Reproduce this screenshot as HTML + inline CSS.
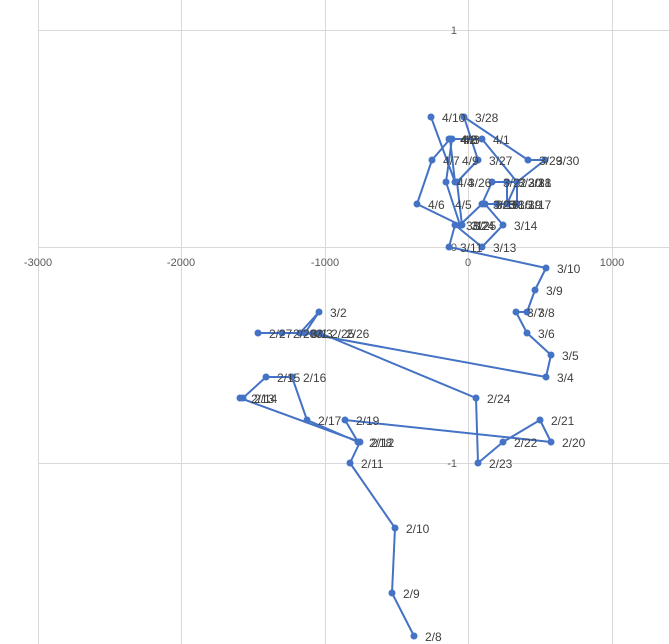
<!DOCTYPE html>
<html><head><meta charset="utf-8"><style>
html,body{margin:0;padding:0;background:#fff;}
svg{display:block;font-family:"Liberation Sans",sans-serif;}
</style></head><body>
<svg width="669" height="644" viewBox="0 0 669 644" xmlns="http://www.w3.org/2000/svg">
<g stroke="#d9d9d9" stroke-width="1">
<line x1="38.5" y1="0" x2="38.5" y2="644"/>
<line x1="181.5" y1="0" x2="181.5" y2="644"/>
<line x1="325.5" y1="0" x2="325.5" y2="644"/>
<line x1="612.5" y1="0" x2="612.5" y2="644"/>
<line x1="38" y1="30.5" x2="669" y2="30.5"/>
<line x1="38" y1="463.5" x2="669" y2="463.5"/>
<line x1="468.5" y1="0" x2="468.5" y2="644"/>
<line x1="38" y1="247.5" x2="669" y2="247.5"/>
</g>
<g font-size="11" fill="#595959" text-anchor="middle">
<text x="38" y="266">-3000</text>
<text x="181" y="266">-2000</text>
<text x="325" y="266">-1000</text>
<text x="468" y="266">0</text>
<text x="612" y="266">1000</text>
</g>
<g font-size="11" fill="#595959" text-anchor="end">
<text x="457" y="34">1</text>
<text x="457" y="251">0</text>
<text x="457" y="467">-1</text>
</g>
<polyline fill="none" stroke="#4472c4" stroke-width="2" stroke-linejoin="round" points="
414,636 392,593 395,528 350,463 360,442 240,398 243,398 266,377 292,377 307,420 358,442 345,420 551,442 540,420 503,442 478,463 476,398 320,333 313,333 258,333 282,333 300,333 319,312 305,333 546,377 551,355 527,333 516,312 527,312 535,290 546,268 449,247 455,225 482,247 503,225 485,204 497,204 517,204 517,182 507,204 507,182 517,182 492,182 482,204 460,225 462,225 457,182 478,160 464,117 528,160 545,160 517,182 482,139 449,139 452,139 446,182 460,225 417,204 432,160 450,139 455,182 431,117"/>
<g fill="#4472c4">
<circle cx="414" cy="636" r="3.5"/><circle cx="392" cy="593" r="3.5"/><circle cx="395" cy="528" r="3.5"/><circle cx="350" cy="463" r="3.5"/><circle cx="360" cy="442" r="3.5"/><circle cx="240" cy="398" r="3.5"/><circle cx="243" cy="398" r="3.5"/><circle cx="266" cy="377" r="3.5"/><circle cx="292" cy="377" r="3.5"/><circle cx="307" cy="420" r="3.5"/><circle cx="358" cy="442" r="3.5"/><circle cx="345" cy="420" r="3.5"/><circle cx="551" cy="442" r="3.5"/><circle cx="540" cy="420" r="3.5"/><circle cx="503" cy="442" r="3.5"/><circle cx="478" cy="463" r="3.5"/><circle cx="476" cy="398" r="3.5"/><circle cx="320" cy="333" r="3.5"/><circle cx="313" cy="333" r="3.5"/><circle cx="258" cy="333" r="3.5"/><circle cx="282" cy="333" r="3.5"/><circle cx="300" cy="333" r="3.5"/><circle cx="319" cy="312" r="3.5"/><circle cx="305" cy="333" r="3.5"/><circle cx="546" cy="377" r="3.5"/><circle cx="551" cy="355" r="3.5"/><circle cx="527" cy="333" r="3.5"/><circle cx="516" cy="312" r="3.5"/><circle cx="527" cy="312" r="3.5"/><circle cx="535" cy="290" r="3.5"/><circle cx="546" cy="268" r="3.5"/><circle cx="449" cy="247" r="3.5"/><circle cx="455" cy="225" r="3.5"/><circle cx="482" cy="247" r="3.5"/><circle cx="503" cy="225" r="3.5"/><circle cx="485" cy="204" r="3.5"/><circle cx="497" cy="204" r="3.5"/><circle cx="517" cy="204" r="3.5"/><circle cx="517" cy="182" r="3.5"/><circle cx="507" cy="204" r="3.5"/><circle cx="507" cy="182" r="3.5"/><circle cx="492" cy="182" r="3.5"/><circle cx="482" cy="204" r="3.5"/><circle cx="460" cy="225" r="3.5"/><circle cx="462" cy="225" r="3.5"/><circle cx="457" cy="182" r="3.5"/><circle cx="478" cy="160" r="3.5"/><circle cx="464" cy="117" r="3.5"/><circle cx="528" cy="160" r="3.5"/><circle cx="545" cy="160" r="3.5"/><circle cx="482" cy="139" r="3.5"/><circle cx="449" cy="139" r="3.5"/><circle cx="452" cy="139" r="3.5"/><circle cx="446" cy="182" r="3.5"/><circle cx="417" cy="204" r="3.5"/><circle cx="432" cy="160" r="3.5"/><circle cx="450" cy="139" r="3.5"/><circle cx="455" cy="182" r="3.5"/><circle cx="431" cy="117" r="3.5"/>
</g>
<g font-size="12" fill="#404040">
<text x="425" y="641">2/8</text><text x="403" y="598">2/9</text><text x="406" y="533">2/10</text><text x="361" y="468">2/11</text>
<text x="371" y="447">2/12</text><text x="251" y="403">2/13</text><text x="254" y="403">2/14</text><text x="277" y="382">2/15</text><text x="303" y="382">2/16</text><text x="318" y="425">2/17</text><text x="369" y="447">2/18</text><text x="356" y="425">2/19</text>
<text x="562" y="447">2/20</text><text x="551" y="425">2/21</text><text x="514" y="447">2/22</text><text x="489" y="468">2/23</text><text x="487" y="403">2/24</text>
<text x="331" y="338">2/25</text><text x="346" y="338">2/26</text><text x="269" y="338">2/27</text><text x="293" y="338">2/28</text><text x="311" y="338">3/1</text><text x="330" y="317">3/2</text><text x="316" y="338">3/3</text>
<text x="557" y="382">3/4</text><text x="562" y="360">3/5</text><text x="538" y="338">3/6</text><text x="527" y="317">3/7</text><text x="538" y="317">3/8</text><text x="546" y="295">3/9</text><text x="557" y="273">3/10</text>
<text x="460" y="252">3/11</text><text x="466" y="230">3/12</text><text x="493" y="252">3/13</text><text x="514" y="230">3/14</text>
<text x="496" y="209">3/15</text><text x="508" y="209">3/16</text><text x="528" y="209">3/17</text><text x="528" y="187">3/18</text><text x="518" y="209">3/19</text><text x="518" y="187">3/20</text><text x="528" y="187">3/21</text><text x="503" y="187">3/22</text><text x="493" y="209">3/23</text><text x="471" y="230">3/24</text><text x="473" y="230">3/25</text><text x="468" y="187">3/26</text>
<text x="489" y="165">3/27</text><text x="475" y="122">3/28</text><text x="539" y="165">3/29</text><text x="556" y="165">3/30</text><text x="528" y="187">3/31</text>
<text x="493" y="144">4/1</text><text x="460" y="144">4/2</text><text x="463" y="144">4/3</text><text x="457" y="187">4/4</text><text x="455" y="209">4/5</text><text x="428" y="209">4/6</text><text x="443" y="165">4/7</text><text x="461" y="144">4/8</text><text x="462" y="165">4/9</text><text x="442" y="122">4/10</text>
</g>
</svg>
</body></html>
